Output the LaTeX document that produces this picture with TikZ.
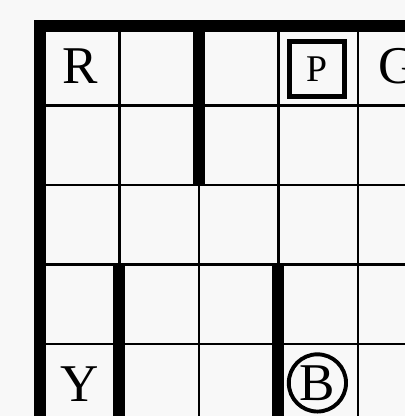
\documentclass[tikz,border=0pt]{standalone}
\usepackage{fontspec}
\setmainfont{Liberation Serif}
\usetikzlibrary{positioning}
\tikzstyle{cell} = [line width=1pt, draw=black]
\tikzstyle{wall} = [line width=4.3pt, draw=black]
\tikzstyle{depot} = [inner sep=0pt, font=\fontsize{19}{19}\selectfont]
\tikzstyle{passenger} = [draw=black, line width=1.8pt, minimum size=0.69cm, inner sep=0pt, font=\fontsize{13.5}{13.5}\selectfont]
\tikzstyle{taxi} = [draw=black, circle, line width=1.4pt, minimum size=0.72cm, inner sep=0pt, font=\fontsize{19}{19}\selectfont]
\definecolor{board}{RGB}{248,248,248}

\begin{document}
\begin{tikzpicture}
	\useasboundingbox (-0.503,0.327) rectangle (4.591,-4.906);
	\fill[board] (-0.503,0.327) rectangle (4.591,-4.906);
	\clip (-0.503,0.327) rectangle (4.591,-4.906);

	% cells
	\draw[cell] (0,0) grid (5,-5);

	% walls
	\draw[wall] (0,0) rectangle (5,-5);
	\draw[wall] (2,0) -- (2,-2);
	\draw[wall] (1,-3) -- (1,-5);
	\draw[wall] (3,-3) -- (3,-5);

	% depots
	\node[depot] (R) at (0.5,-0.5) {R};
	\node[depot] (G) at (4.5,-0.5) {G};
	\node[depot] (Y) at (0.5,-4.5) {Y};
	\node[passenger] (P) at (3.48,-0.54) {P};
	\node[taxi] (B) at (3.49,-4.49) {B};
\end{tikzpicture}
\end{document}
